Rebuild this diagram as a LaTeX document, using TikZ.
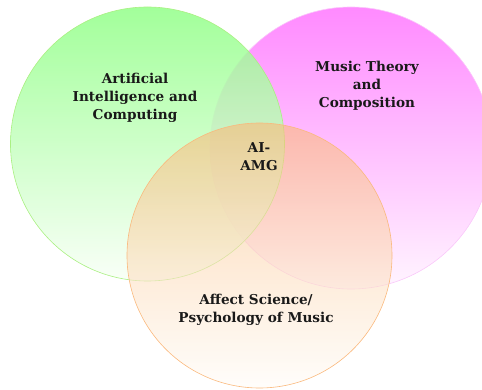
\documentclass[tikz,border=0pt]{standalone}
\usepackage{fontspec}
\setmainfont{DejaVu Serif}
\begin{document}
\begin{tikzpicture}[x=1pt,y=-1pt,
  lbl/.style={font=\bfseries\fontsize{13.6}{18}\selectfont, align=center, text=black!90},
  ring/.style={line width=0.6pt}]
\definecolor{gtop}{RGB}{142,255,132}
\definecolor{gbot}{RGB}{248,255,246}
\definecolor{gline}{RGB}{170,240,130}
\definecolor{mtop}{RGB}{255,138,255}
\definecolor{mbot}{RGB}{255,245,255}
\definecolor{mline}{RGB}{250,200,250}
\definecolor{otop}{RGB}{250,185,120}
\definecolor{obot}{RGB}{255,252,248}
\definecolor{oline}{RGB}{250,185,125}
\useasboundingbox (0,0) rectangle (482,390);
\begin{scope}
\clip (0,0) rectangle (482,390);
\shade[top color=mtop, bottom color=mbot] (351,148) circle (141);
\draw[ring, mline] (351,148) circle (141);
\shade[top color=gtop, bottom color=gbot, fill opacity=0.82] (147.5,144) circle (137);
\draw[ring, gline] (147.5,144) circle (137);
\shade[top color=otop, bottom color=obot, fill opacity=0.6] (259.5,255.5) circle (132.5);
\draw[ring, oline] (259.5,255.5) circle (132.5);
\end{scope}
\node[lbl] (ai) at (135,98) {Artificial\\Intelligence and\\Computing};
\node[lbl] (mt) at (367,86) {Music Theory\\and\\Composition};
\node[lbl] (c) at (259,157) {AI-\\AMG};
\node[lbl] (af) at (256,310) {Affect Science/\\Psychology of Music};
\end{tikzpicture}
\end{document}
